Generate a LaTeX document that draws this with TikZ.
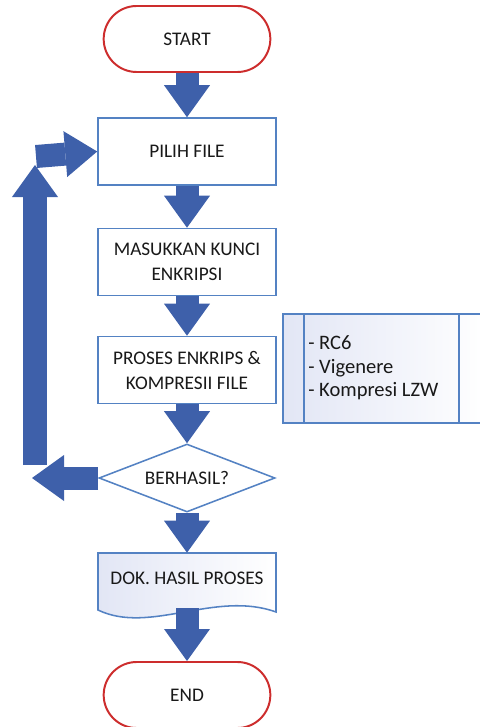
\documentclass[tikz,border=0pt]{standalone}
\usepackage{fontspec}
\setmainfont{Carlito}
\usetikzlibrary{shapes.geometric, shapes.misc, arrows.meta, calc}

\definecolor{flowblue}{RGB}{62,96,170}
\definecolor{boxline}{RGB}{84,130,195}
\definecolor{termred}{RGB}{205,45,45}
\definecolor{textgray}{RGB}{25,25,25}
\definecolor{shadelav}{RGB}{226,230,245}

\begin{document}
\begin{tikzpicture}[
    x=0.025cm, y=-0.025cm,
    font=\fontsize{13.7}{17.8}\selectfont,
    text=textgray,
    terminal/.style={
        draw=termred,
        line width=1.4pt,
        fill=white,
        rounded rectangle,
        minimum width=4.4cm,
        minimum height=1.65cm
    },
    process/.style={
        draw=boxline,
        line width=1.1pt,
        fill=white,
        rectangle,
        align=center,
        minimum width=4.45cm,
        minimum height=1.675cm
    },
    decision/.style={
        draw=boxline,
        line width=1.1pt,
        fill=white,
        diamond,
        aspect=2.6,
        inner sep=0pt,
        minimum width=4.4cm,
        minimum height=1.7cm
    },
    flow/.style={
        draw=flowblue,
        line width=0.575cm,
        -{Triangle[length=0.8cm, width=1.15cm, line width=0pt]}
    }
]
\useasboundingbox (0,0) rectangle (479,727);

% document shape
\path[draw=boxline, line width=1.1pt, left color=shadelav, right color=white]
    (98,553) -- (276,553) -- (276,612)
    .. controls (215,590) and (150,635) .. (98,610) -- cycle;

% steps
\node[terminal] (start) at (187,39) {START};
\node[process] (pilih) at (187,151.5) {PILIH FILE};
\node[process] (kunci) at (187,262) {MASUKKAN KUNCI\\ENKRIPSI};
\node[process] (proses) at (187,370) {PROSES ENKRIPS \&\\KOMPRESII FILE};
\node[decision] (cek) at (187,478) {BERHASIL?};
\node[minimum width=4.45cm, minimum height=1.25cm] (dok) at (187,578) {DOK. HASIL PROSES};
\node[terminal] (end) at (187,695) {END};

% algorithm note
\node[draw=boxline, line width=1.1pt, left color=shadelav, right color=white,
      minimum width=5.1cm, minimum height=2.725cm] (algo) at (385,368.5) {};
\draw[boxline, line width=1.1pt] ($(algo.north west)+(22,0)$) -- ($(algo.south west)+(22,0)$);
\draw[boxline, line width=1.1pt] ($(algo.north west)+(177,0)$) -- ($(algo.south west)+(177,0)$);
\node[anchor=west, align=left, inner sep=0pt, font=\fontsize{14.6}{16.7}\selectfont] (algolist) at (308,368)
    {- RC6\\- Vigenere\\- Kompresi LZW};

% loop back
\coordinate (backtip) at (32,478);
\coordinate (upfoot) at (35,465);
\coordinate (uptip) at (35,165);
\coordinate (turnfoot) at (36,156.5);

% flows
\draw[flow] (start.south) -- (pilih.north);
\draw[flow] (pilih.south) -- (kunci.north);
\draw[flow] (kunci.south) -- (proses.north);
\draw[flow] (proses.south) -- (cek.north);
\draw[flow] (cek.south) -- (dok.north);
\draw[flow] ($(dok.south)+(0,5)$) -- (end.north);
\draw[flow] (cek.west) -- (backtip);
\draw[flow] (upfoot) -- (uptip);
\draw[flow] (turnfoot) -- (pilih.west);
\end{tikzpicture}
\end{document}
